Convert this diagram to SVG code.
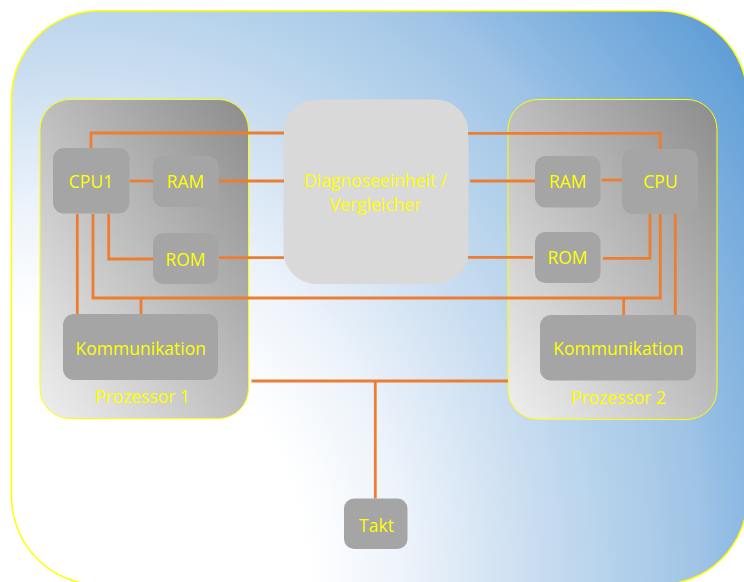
<svg xmlns="http://www.w3.org/2000/svg" width="744" height="582" viewBox="0 0 744 582">
  <defs>
    <radialGradient id="bgGrad" gradientUnits="userSpaceOnUse" cx="60" cy="580" r="850" gradientTransform="translate(60,580) scale(1,1.08) translate(-60,-580)">
      <stop offset="0" stop-color="#ffffff"/>
      <stop offset="0.29" stop-color="#ffffff"/>
      <stop offset="0.4" stop-color="#eef4fb"/>
      <stop offset="0.565" stop-color="#c8dcf0"/>
      <stop offset="0.635" stop-color="#b8d4ec"/>
      <stop offset="0.753" stop-color="#a0c4e6"/>
      <stop offset="0.8" stop-color="#8fbae3"/>
      <stop offset="1" stop-color="#5b9bd5"/>
    </radialGradient>
    <linearGradient id="procGrad" x1="0" y1="1" x2="1" y2="0">
      <stop offset="0" stop-color="#efefef"/>
      <stop offset="1" stop-color="#8c8c8c"/>
    </linearGradient>
  </defs>
  <style>
    .proc { fill: url(#procGrad); stroke: #ffff00; stroke-width: 1; }
    .node { fill: #a5a5a5; }
    .diag { fill: #d9d9d9; }
    .lbl { font-family: "Open Sans", "Liberation Sans", sans-serif; font-size: 17.5px; fill: #ffff00; text-anchor: middle; }
    .wire { fill: none; stroke: #ed7d31; stroke-width: 2.8; stroke-linejoin: miter; }
  </style>

  <g id="background">
    <rect x="11.5" y="10.7" width="736" height="574" rx="88" ry="88" fill="url(#bgGrad)" stroke="#ffff00" stroke-width="1.5"/>
  </g>

  <g id="prozessor1">
    <rect class="proc" x="40" y="99.5" width="208.5" height="319" rx="30" ry="30"/>
    <text class="lbl" x="142.5" y="403">Prozessor 1</text>
  </g>

  <g id="prozessor2">
    <rect class="proc" x="508" y="99.5" width="209" height="320" rx="30" ry="30"/>
    <text class="lbl" x="618.5" y="403.5">Prozessor 2</text>
  </g>

  <g id="diagnoseeinheit">
    <rect class="diag" x="283.5" y="99.5" width="185" height="184.5" rx="33" ry="33"/>
    <text class="lbl" x="375.5" y="187">Diagnoseeinheit /</text>
    <text class="lbl" x="375.5" y="210.7">Vergleicher</text>
  </g>

  <g id="connectors">
    <!-- left side -->
    <polyline class="wire" points="91,148 91,133 284,133"/>
    <line class="wire" x1="130" y1="181" x2="153" y2="181"/>
    <line class="wire" x1="219" y1="181" x2="284" y2="181"/>
    <polyline class="wire" points="108.7,214 108.7,259 153,259"/>
    <line class="wire" x1="219" y1="257.7" x2="284" y2="257.7"/>
    <polyline class="wire" points="93,214 93,298 660.3,298 660.3,214"/>
    <line class="wire" x1="141" y1="298" x2="141" y2="314"/>
    <line class="wire" x1="77.3" y1="214" x2="77.3" y2="314"/>
    <!-- right side -->
    <polyline class="wire" points="468,133.3 660.3,133.3 660.3,149"/>
    <line class="wire" x1="470" y1="181" x2="535" y2="181"/>
    <line class="wire" x1="601.7" y1="180" x2="623" y2="180"/>
    <line class="wire" x1="468" y1="257.3" x2="533" y2="257.3"/>
    <polyline class="wire" points="603,258.3 650,258.3 650,214"/>
    <line class="wire" x1="623.7" y1="298" x2="623.7" y2="315"/>
    <line class="wire" x1="675.3" y1="214" x2="675.3" y2="315"/>
    <!-- clock bus -->
    <line class="wire" x1="251.5" y1="381" x2="508" y2="381"/>
    <line class="wire" x1="375.3" y1="381" x2="375.3" y2="498.5"/>
  </g>

  <g id="cpu1">
    <rect class="node" x="53" y="148" width="76.5" height="65.5" rx="11" ry="11"/>
    <text class="lbl" x="91" y="188">CPU1</text>
  </g>
  <g id="ram1">
    <rect class="node" x="153" y="156" width="65.5" height="51" rx="10" ry="10"/>
    <text class="lbl" x="185.5" y="188.3">RAM</text>
  </g>
  <g id="rom1">
    <rect class="node" x="153" y="233" width="65.5" height="51" rx="10" ry="10"/>
    <text class="lbl" x="185.5" y="265.7">ROM</text>
  </g>
  <g id="kommunikation1">
    <rect class="node" x="63" y="314" width="155" height="66" rx="11" ry="11"/>
    <text class="lbl" x="140.8" y="355">Kommunikation</text>
  </g>

  <g id="cpu2">
    <rect class="node" x="622" y="149" width="76" height="65" rx="11" ry="11"/>
    <text class="lbl" x="660.5" y="188">CPU</text>
  </g>
  <g id="ram2">
    <rect class="node" x="535" y="156" width="65.5" height="51.5" rx="10" ry="10"/>
    <text class="lbl" x="567.7" y="187.7">RAM</text>
  </g>
  <g id="rom2">
    <rect class="node" x="535" y="232" width="65.5" height="51" rx="10" ry="10"/>
    <text class="lbl" x="567.5" y="264.3">ROM</text>
  </g>
  <g id="kommunikation2">
    <rect class="node" x="540" y="315" width="156" height="65.5" rx="11" ry="11"/>
    <text class="lbl" x="618.5" y="355">Kommunikation</text>
  </g>

  <g id="takt">
    <rect class="node" x="344" y="498.5" width="63.5" height="50.5" rx="10" ry="10"/>
    <text class="lbl" x="376.5" y="531.7">Takt</text>
  </g>
</svg>
